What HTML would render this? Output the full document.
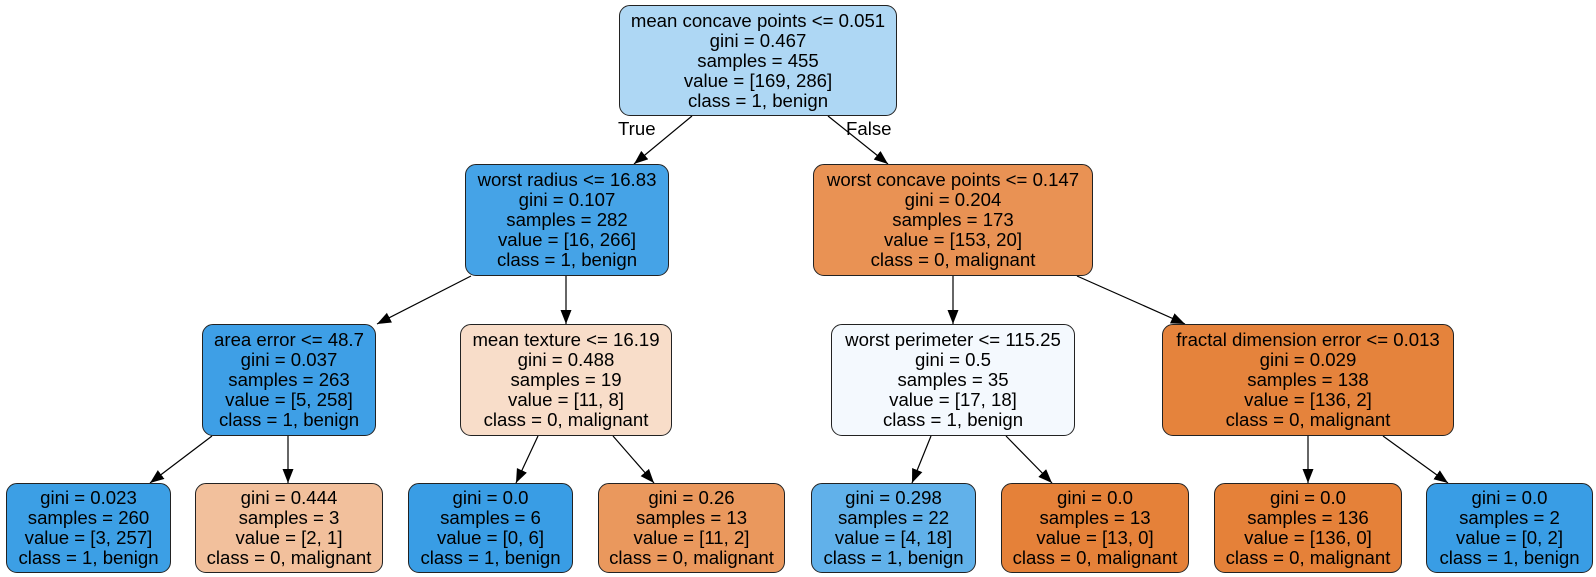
<!DOCTYPE html>
<html><head><meta charset="utf-8"><style>
body{margin:0;width:1596px;height:577px;background:#fff;position:relative;overflow:hidden;font-family:"Liberation Sans",Arial,sans-serif;}
.n{position:absolute;box-sizing:border-box;border:1.3px solid #222;border-radius:11px;display:flex;flex-direction:column;justify-content:center;align-items:center;font-size:18.6px;line-height:20px;color:#000;white-space:nowrap;}
.lbl{position:absolute;font-size:18.6px;line-height:20px;}
svg{position:absolute;left:0;top:0;}
</style></head><body>
<svg width="1596" height="577">
<defs><marker id="a" markerUnits="userSpaceOnUse" markerWidth="16" markerHeight="12" refX="14" refY="5.5" orient="auto"><path d="M0,0 L14,5.5 L0,11 z" fill="#000"/></marker></defs>
<g stroke="#000" stroke-width="1.2" marker-end="url(#a)">
<line x1="692" y1="116" x2="634" y2="164"/>
<line x1="828" y1="116" x2="888" y2="164"/>
<line x1="471" y1="276" x2="377" y2="324"/>
<line x1="566" y1="276" x2="566" y2="324"/>
<line x1="953" y1="276" x2="953" y2="324"/>
<line x1="1077" y1="276" x2="1185" y2="324"/>
<line x1="212" y1="436" x2="150" y2="483"/>
<line x1="288" y1="436" x2="288" y2="483"/>
<line x1="538" y1="436" x2="516" y2="483"/>
<line x1="613" y1="436" x2="654" y2="483"/>
<line x1="931" y1="436" x2="912" y2="483"/>
<line x1="1006" y1="436" x2="1052" y2="483"/>
<line x1="1308" y1="436" x2="1308" y2="483"/>
<line x1="1383" y1="436" x2="1448" y2="483"/>
</g></svg>
<div class="lbl" style="left:618px;top:119px">True</div>
<div class="lbl" style="left:846px;top:119px">False</div>

<div class="n" style="left:619px;top:5px;width:278px;height:111px;background:#aed7f4"><div>mean concave points &lt;= 0.051</div><div>gini = 0.467</div><div>samples = 455</div><div>value = [169, 286]</div><div>class = 1, benign</div></div>

<div class="n" style="left:465px;top:164px;width:204px;height:112px;background:#45a3e7"><div>worst radius &lt;= 16.83</div><div>gini = 0.107</div><div>samples = 282</div><div>value = [16, 266]</div><div>class = 1, benign</div></div>
<div class="n" style="left:813px;top:164px;width:280px;height:112px;background:#e99254"><div>worst concave points &lt;= 0.147</div><div>gini = 0.204</div><div>samples = 173</div><div>value = [153, 20]</div><div>class = 0, malignant</div></div>

<div class="n" style="left:202px;top:324px;width:174px;height:112px;background:#3e9fe6"><div>area error &lt;= 48.7</div><div>gini = 0.037</div><div>samples = 263</div><div>value = [5, 258]</div><div>class = 1, benign</div></div>
<div class="n" style="left:460px;top:324px;width:212px;height:112px;background:#f8ddc9"><div>mean texture &lt;= 16.19</div><div>gini = 0.488</div><div>samples = 19</div><div>value = [11, 8]</div><div>class = 0, malignant</div></div>
<div class="n" style="left:831px;top:324px;width:244px;height:112px;background:#f4f9fe"><div>worst perimeter &lt;= 115.25</div><div>gini = 0.5</div><div>samples = 35</div><div>value = [17, 18]</div><div>class = 1, benign</div></div>
<div class="n" style="left:1162px;top:324px;width:292px;height:112px;background:#e5833c"><div>fractal dimension error &lt;= 0.013</div><div>gini = 0.029</div><div>samples = 138</div><div>value = [136, 2]</div><div>class = 0, malignant</div></div>

<div class="n" style="left:6px;top:483px;width:165px;height:90px;background:#3c9fe5"><div>gini = 0.023</div><div>samples = 260</div><div>value = [3, 257]</div><div>class = 1, benign</div></div>
<div class="n" style="left:195px;top:483px;width:188px;height:90px;background:#f2c09c"><div>gini = 0.444</div><div>samples = 3</div><div>value = [2, 1]</div><div>class = 0, malignant</div></div>
<div class="n" style="left:408px;top:483px;width:165px;height:90px;background:#399de5"><div>gini = 0.0</div><div>samples = 6</div><div>value = [0, 6]</div><div>class = 1, benign</div></div>
<div class="n" style="left:598px;top:483px;width:187px;height:90px;background:#ea985d"><div>gini = 0.26</div><div>samples = 13</div><div>value = [11, 2]</div><div>class = 0, malignant</div></div>
<div class="n" style="left:811px;top:483px;width:165px;height:90px;background:#61b1ea"><div>gini = 0.298</div><div>samples = 22</div><div>value = [4, 18]</div><div>class = 1, benign</div></div>
<div class="n" style="left:1001px;top:483px;width:188px;height:90px;background:#e58139"><div>gini = 0.0</div><div>samples = 13</div><div>value = [13, 0]</div><div>class = 0, malignant</div></div>
<div class="n" style="left:1214px;top:483px;width:188px;height:90px;background:#e58139"><div>gini = 0.0</div><div>samples = 136</div><div>value = [136, 0]</div><div>class = 0, malignant</div></div>
<div class="n" style="left:1426px;top:483px;width:167px;height:90px;background:#399de5"><div>gini = 0.0</div><div>samples = 2</div><div>value = [0, 2]</div><div>class = 1, benign</div></div>
</body></html>
